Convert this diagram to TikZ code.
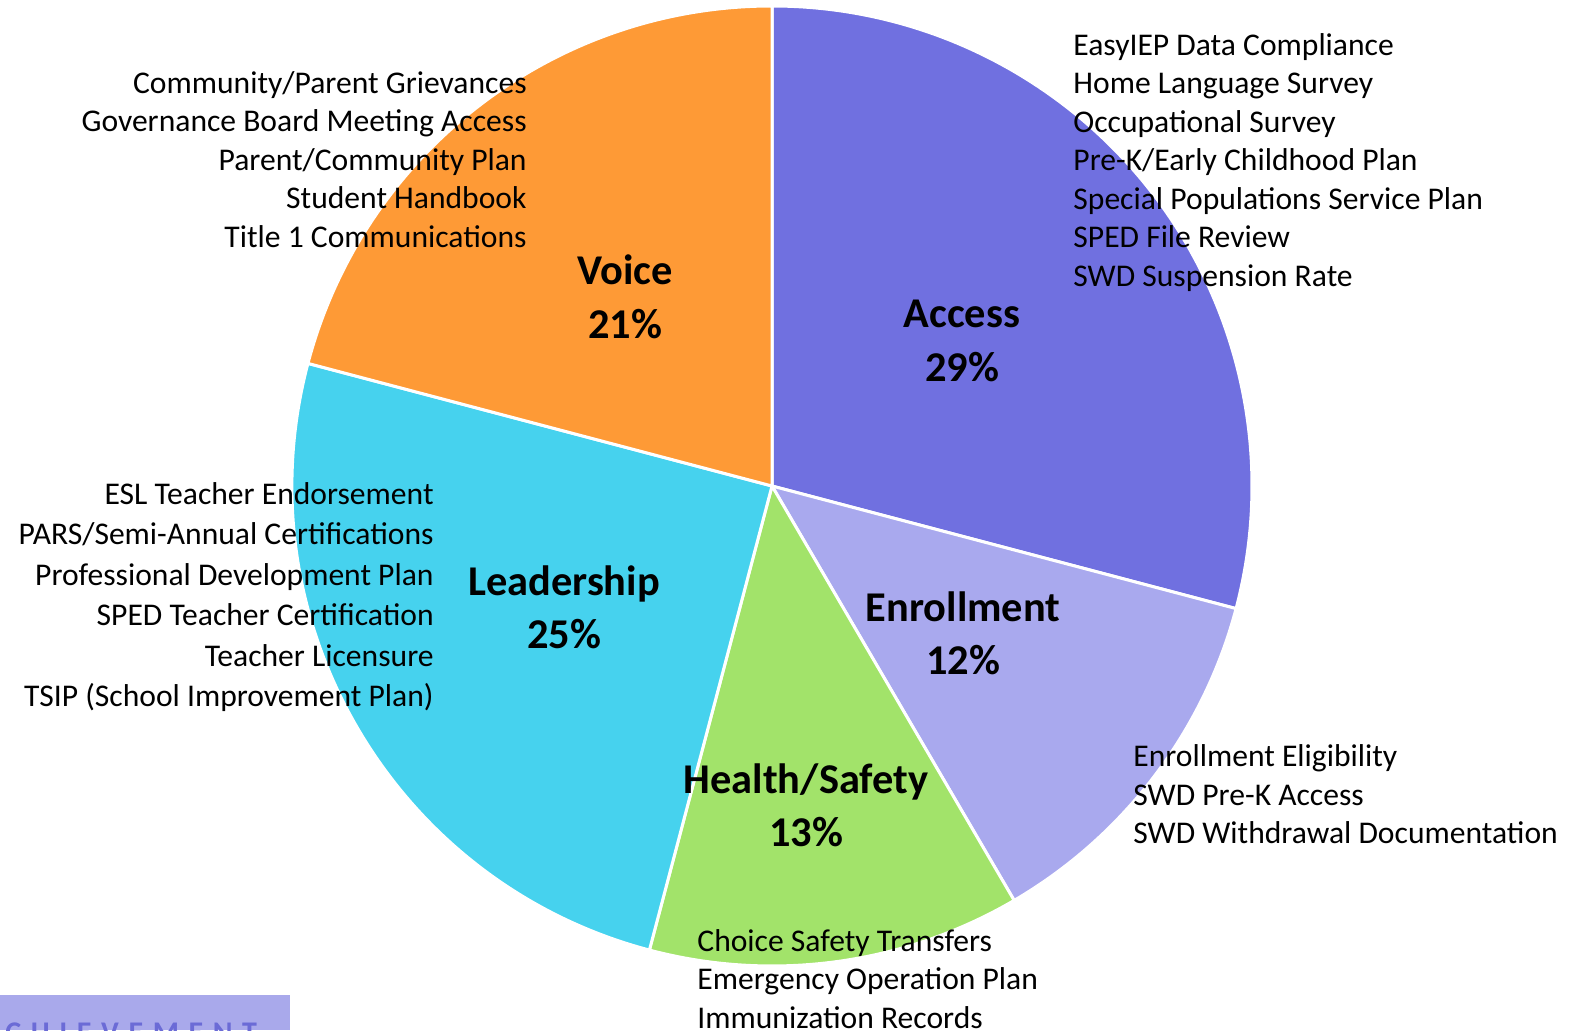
\documentclass[tikz,border=0pt]{standalone}
\usepackage{fontspec}
\setmainfont{Carlito}
\newfontfamily\spacedfont[LetterSpace=32]{Carlito}
\usepackage{xcolor}
\definecolor{vaccess}{HTML}{7070E0}
\definecolor{venroll}{HTML}{A9A9EE}
\definecolor{vhealth}{HTML}{A2E36A}
\definecolor{vlead}{HTML}{46D2EE}
\definecolor{vvoice}{HTML}{FE9A36}
\definecolor{vbar}{HTML}{A9A9EB}
\definecolor{vbartext}{HTML}{6B6BD6}

\begin{document}
\begin{tikzpicture}[x=0.5pt, y=0.5pt,
		slice/.style={draw=white, line width=1.5pt, line join=round},
		itemr/.style={anchor=mid east, inner sep=0pt, font=\fontsize{15.8}{19}\selectfont},
		iteml/.style={anchor=mid west, inner sep=0pt, font=\fontsize{15.8}{19}\selectfont},
		share/.style={align=center, inner sep=0pt, font=\bfseries\fontsize{21.2}{26.7}\selectfont}]
		\useasboundingbox (0,0) rectangle (1579,1030);
		\coordinate (O) at (772,544);
		% slices, clockwise from the top
		\filldraw[slice, fill=vaccess] (O) -- ++(90:480) arc[start angle=90, end angle=-14.8, radius=480] -- cycle;
		\filldraw[slice, fill=venroll] (O) -- ++(-14.8:480) arc[start angle=-14.8, end angle=-59.7, radius=480] -- cycle;
		\filldraw[slice, fill=vhealth] (O) -- ++(-59.7:480) arc[start angle=-59.7, end angle=-104.8, radius=480] -- cycle;
		\filldraw[slice, fill=vlead] (O) -- ++(-104.8:480) arc[start angle=-104.8, end angle=-194.8, radius=480] -- cycle;
		\filldraw[slice, fill=vvoice] (O) -- ++(-194.8:480) arc[start angle=-194.8, end angle=-270, radius=480] -- cycle;
		% share labels
		\node[share] (access) at (962,689) {Access\\29\%};
		\node[share] (enrollment) at (963,397) {Enrollment\\12\%};
		\node[share] (health) at (806,225) {Health/Safety\\13\%};
		\node[share] (leadership) at (564,423) {Leadership\\25\%};
		\node[share] (voice) at (625,733) {Voice\\21\%};
		% item lists
		\node[itemr] (voice1) at (527,941.4) {Community/Parent Grievances};
		\node[itemr] (voice2) at (527,902.9) {Governance Board Meeting Access};
		\node[itemr] (voice3) at (527,864.4) {Parent/Community Plan};
		\node[itemr] (voice4) at (527,825.9) {Student Handbook};
		\node[itemr] (voice5) at (527,787.4) {Title 1 Communications};
		\node[iteml] (access1) at (1073,979.7) {EasyIEP Data Compliance};
		\node[iteml] (access2) at (1073,941.2) {Home Language Survey};
		\node[iteml] (access3) at (1073,902.7) {Occupational Survey};
		\node[iteml] (access4) at (1073,864.2) {Pre-K/Early Childhood Plan};
		\node[iteml] (access5) at (1073,825.7) {Special Populations Service Plan};
		\node[iteml] (access6) at (1073,787.2) {SPED File Review};
		\node[iteml] (access7) at (1073,748.7) {SWD Suspension Rate};
		\node[itemr] (lead1) at (434,530.6) {ESL Teacher Endorsement};
		\node[itemr] (lead2) at (434,490.1) {PARS/Semi-Annual Certifications};
		\node[itemr] (lead3) at (434,449.6) {Professional Development Plan};
		\node[itemr] (lead4) at (434,409.1) {SPED Teacher Certification};
		\node[itemr] (lead5) at (434,368.6) {Teacher Licensure};
		\node[itemr] (lead6) at (434,328.1) {TSIP (School Improvement Plan)};
		\node[iteml] (enroll1) at (1133,268) {Enrollment Eligibility};
		\node[iteml] (enroll2) at (1133,229.5) {SWD Pre-K Access};
		\node[iteml] (enroll3) at (1133,191) {SWD Withdrawal Documentation};
		\node[iteml] (health1) at (697,83.5) {Choice Safety Transfers};
		\node[iteml] (health2) at (697,45) {Emergency Operation Plan};
		\node[iteml] (health3) at (697,6.5) {Immunization Records};
		% cut-off banner, bottom left
		\fill[vbar] (0,0) rectangle (290,35);
		\begin{scope}
			\clip (0,0) rectangle (290,35);
			\node[anchor=north west, inner sep=0pt, text=vbartext, font=\spacedfont\bfseries\fontsize{15}{18}\selectfont] (banner) at (5,8) {CHIEVEMENT};
		\end{scope}
\end{tikzpicture}
\end{document}
